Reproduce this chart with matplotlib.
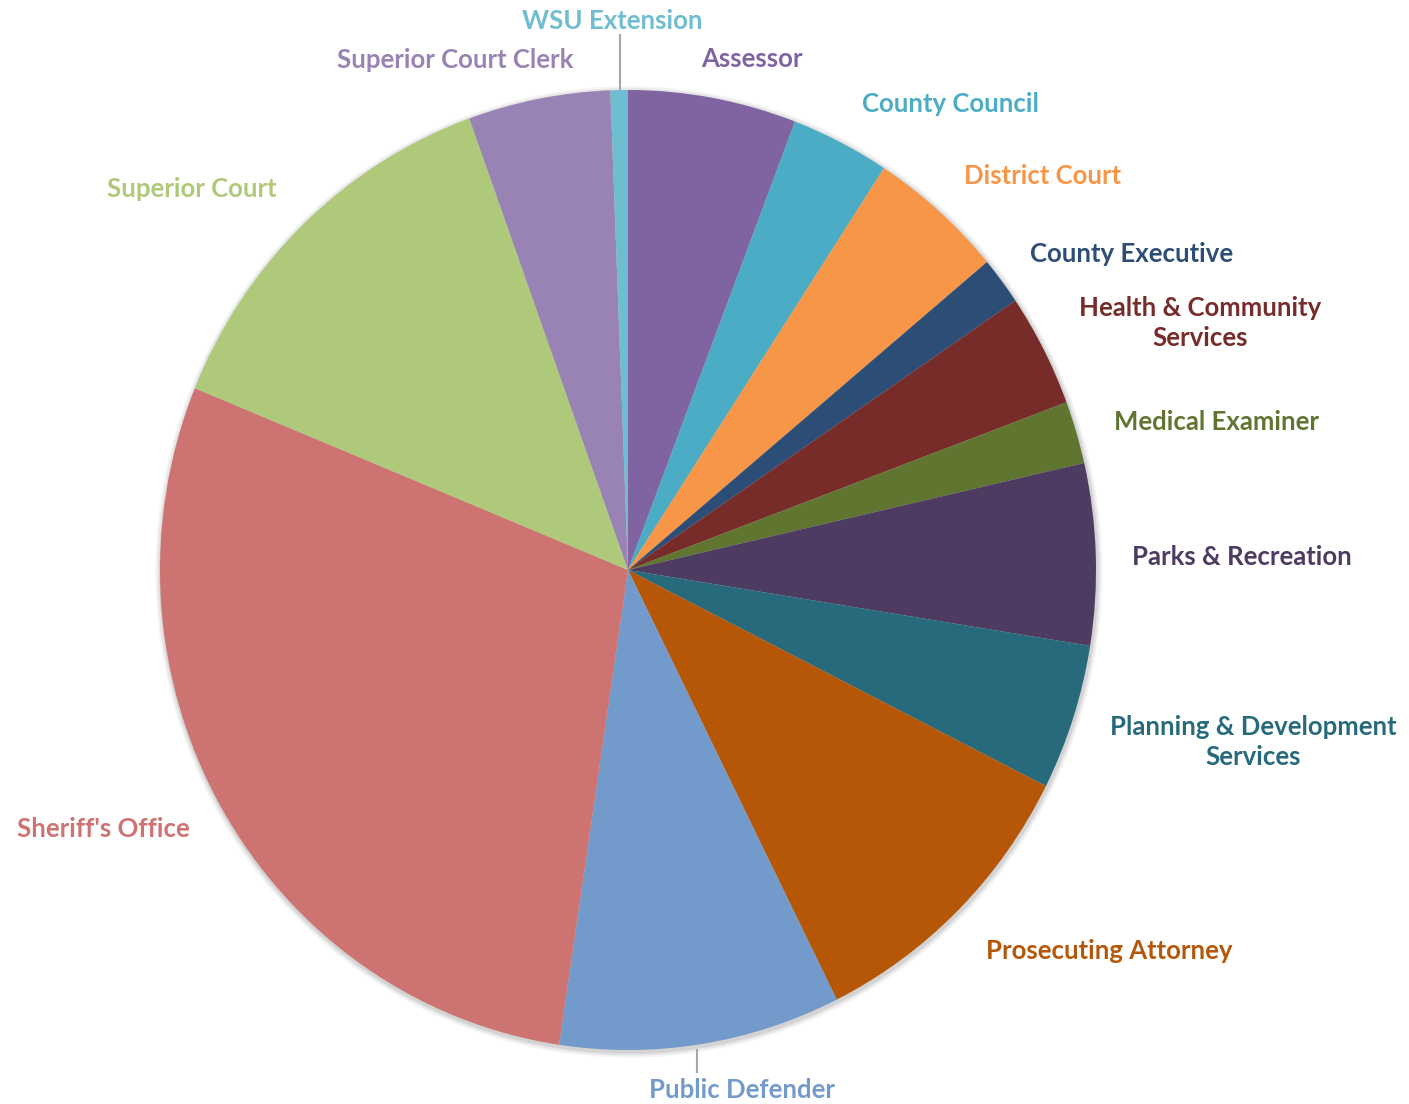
import matplotlib
matplotlib.use("Agg")
import matplotlib.pyplot as plt
import numpy as np

# data (share of budget, %)
departments = ["Assessor", "County Council", "District Court", "County Executive",
               "Health & Community\nServices", "Medical Examiner", "Parks & Recreation",
               "Planning & Development\nServices", "Prosecuting Attorney", "Public Defender",
               "Sheriff's Office", "Superior Court", "Superior Court Clerk", "WSU Extension"]
shares = [5.8, 3.4, 4.7, 1.6, 3.8, 2.1, 6.1, 4.9, 10.2, 9.7, 28.8, 13.3, 4.9, 0.6]
colors = ["#8064A2", "#4BACC6", "#F79646", "#2C4D75", "#772C2A", "#5F7530", "#4D3B62",
          "#276A7C", "#B65708", "#729ACA", "#CD7371", "#AFC97A", "#9983B5", "#6FBDD1"]

# pixel geometry of the picture (pie is a bit taller than wide)
W, H = 1409, 1104
cx, cy = 628, 570
Rx, Ry = 468.0, 480.0

# label centres in pixels of the picture
label_px = [(752, 59), (950, 104), (1043, 176), (1132, 254), (1200, 323),
            (1216, 422), (1242, 557), (1253, 742), (1109, 951), (742, 1090),
            (103, 829), (192, 189), (455, 60), (612, 21)]
leader_px = [((620, 90), (620, 35)), ((697, 1050), (697, 1072))]


def to_data(p):
    return (p[0] - cx) / Rx, (cy - p[1]) / Ry


fig = plt.figure(figsize=(W / 100, H / 100), dpi=100)
ax = fig.add_axes([0, 0, 1, 1])

# faint shadow round the pie
for k, a in zip([1.012, 1.008, 1.004], [0.04, 0.06, 0.08]):
    ax.add_patch(plt.Circle((0.002, -0.004), k, color="black", alpha=a, lw=0, zorder=0))

wedges, _ = ax.pie(shares, colors=colors, startangle=90, counterclock=False,
                   radius=1.0, wedgeprops=dict(linewidth=0))

for a, b in leader_px:
    (x0, y0), (x1, y1) = to_data(a), to_data(b)
    ax.plot([x0, x1], [y0, y1], color="#A6A6A6", lw=1.5, zorder=0)

for name, c, p in zip(departments, colors, label_px):
    x, y = to_data(p)
    ax.text(x, y, name, color=c, fontsize=18.5, fontweight="bold", family=["Lato", "DejaVu Sans"],
            ha="center", va="center", linespacing=1.3)

ax.set_aspect("auto")
ax.set_xlim(-cx / Rx, (W - cx) / Rx)
ax.set_ylim(-(H - cy) / Ry, cy / Ry)
ax.axis("off")

fig.savefig("out.png", dpi=100)
